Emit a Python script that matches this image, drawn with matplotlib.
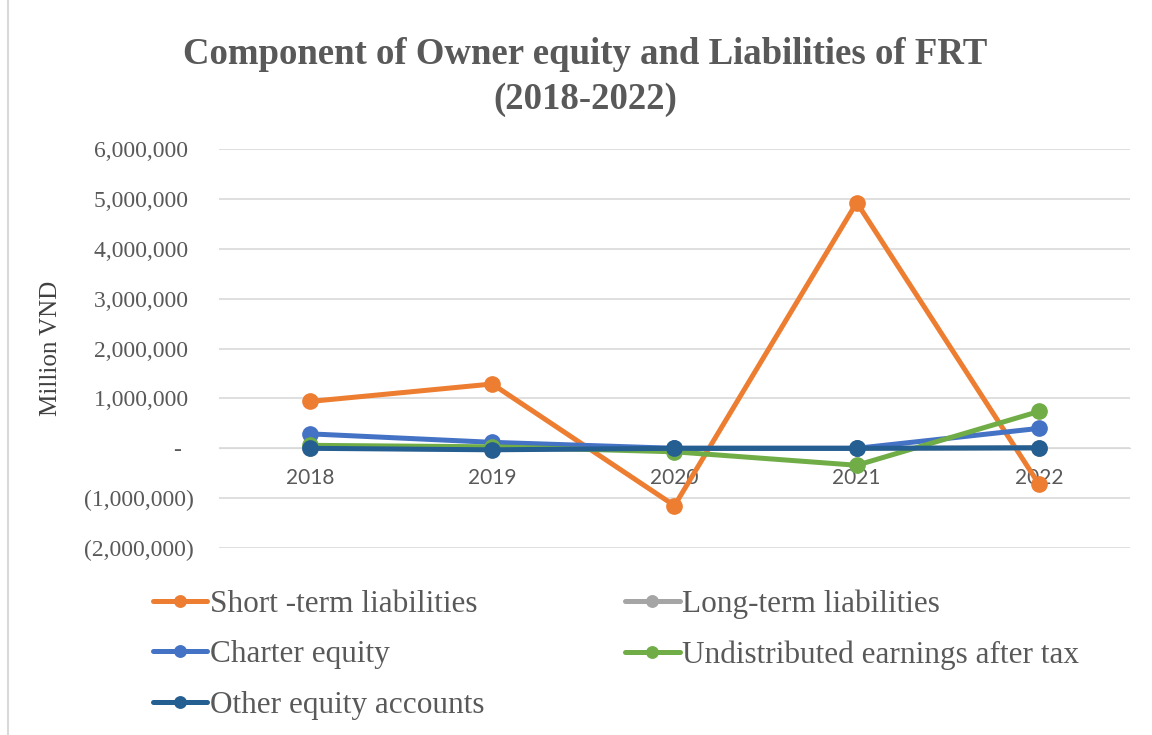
import matplotlib.pyplot as plt
from matplotlib.ticker import FuncFormatter
from matplotlib.patches import Rectangle

years = ["2018", "2019", "2020", "2021", "2022"]
short_term = [940000, 1290000, -1150000, 4930000, -720000]
long_term = [10000, -20000, 0, 0, 10000]
charter_equity = [290000, 120000, 0, 0, 400000]
undistributed = [60000, 30000, -70000, -340000, 740000]
other_equity = [0, -30000, 0, 0, 10000]

series = [
    ("Short -term liabilities", short_term, "#ED7D31"),
    ("Long-term liabilities", long_term, "#A5A5A5"),
    ("Charter equity", charter_equity, "#4472C4"),
    ("Undistributed earnings after tax", undistributed, "#70AD47"),
    ("Other equity accounts", other_equity, "#255E91"),
]

fig = plt.figure(figsize=(11.52, 7.35), dpi=100)
ax = fig.add_axes([0.190, 0.2544, 0.791, 0.5426])

x = range(len(years))
lines = []
for name, vals, col in series:
    ln, = ax.plot(x, vals, color=col, lw=3.6, marker="o", ms=11, label=name,
                  solid_capstyle="round")
    lines.append(ln)

ax.set_xlim(-0.5, 4.5)
ax.set_ylim(-2000000, 6000000)
ax.set_yticks(range(-2000000, 6000001, 1000000))


def fmt(v, pos):
    if v == 0:
        return "-  "
    if v < 0:
        return "({:,.0f})".format(-v)
    return "{:,.0f} ".format(v)


ax.yaxis.set_major_formatter(FuncFormatter(fmt))
ax.grid(axis="y", color="#D9D9D9", lw=1.2)
ax.set_axisbelow(True)
for s in ["top", "right", "left"]:
    ax.spines[s].set_visible(False)
ax.spines["bottom"].set_position(("data", 0))
ax.spines["bottom"].set_color("#D9D9D9")
ax.spines["bottom"].set_zorder(0)
ax.set_xticks(list(x))
ax.set_xticklabels(years, family="Lato", fontsize=15, color="#595959")
ax.tick_params(axis="x", length=0, pad=14)
ax.tick_params(axis="y", length=0, pad=18, labelsize=17, labelcolor="#595959")
for lab in ax.get_yticklabels():
    lab.set_family("Liberation Serif")

ax.set_ylabel("Million VND", family="Liberation Serif", fontsize=18,
              color="#404040", labelpad=16)

fig.text(0.508, 0.926, "Component of Owner equity and Liabilities of FRT",
         ha="center", va="center", family="Liberation Serif", fontsize=26.5,
         weight="bold", color="#595959")
fig.text(0.508, 0.864, "(2018-2022)", ha="center", va="center",
         family="Liberation Serif", fontsize=26.5, weight="bold", color="#595959")

order = [0, 2, 4, 1, 3]
leg = fig.legend([lines[i] for i in order], [series[i][0] for i in order],
                 loc="upper left", bbox_to_anchor=(0.108, 0.236), ncol=2,
                 frameon=False, prop={"family": "Liberation Serif", "size": 22.5},
                 handlelength=1.75, handletextpad=0.08, columnspacing=4.5,
                 labelspacing=0.68, numpoints=1, markerscale=0.75)
for t in leg.get_texts():
    t.set_color("#595959")

fig.patches.append(Rectangle((0.007, -0.01), 1.0, 1.02, transform=fig.transFigure,
                             fill=False, edgecolor="#D9D9D9", lw=1.5))

fig.savefig("out.png", dpi=100)
